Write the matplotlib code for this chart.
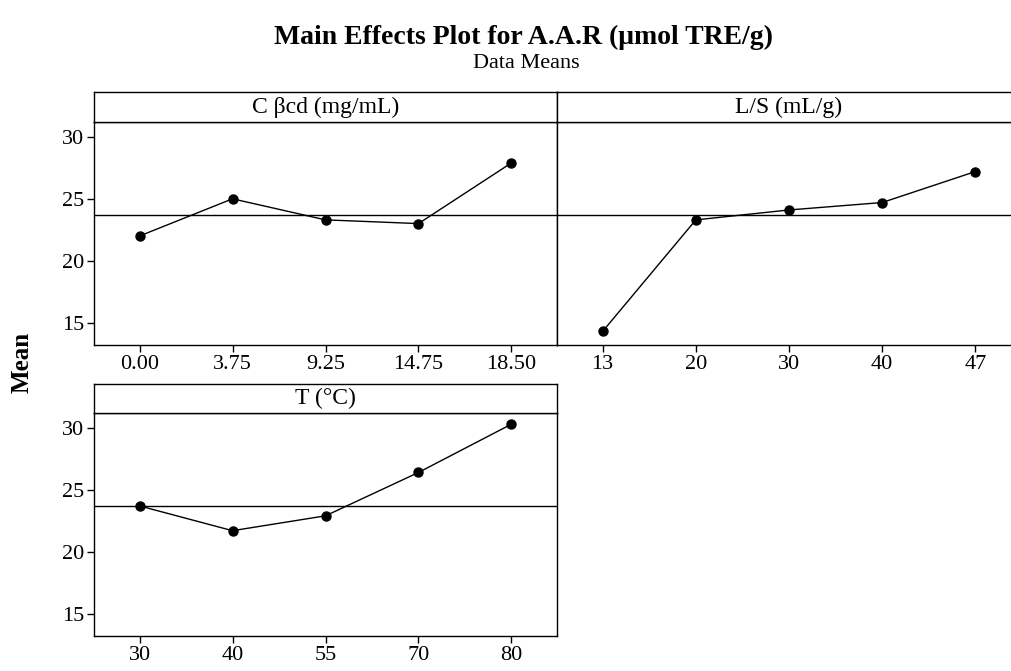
#Python code for Minitab style main effects plot
import numpy as np
import matplotlib.pyplot as plt

plt.rcParams['font.family'] = ['Liberation Serif', 'DejaVu Serif']

# Data (means)
factor_names = ['C βcd (mg/mL)', 'L/S (mL/g)', 'T (°C)']
cbcd_levels = ['0.00', '3.75', '9.25', '14.75', '18.50']
cbcd_means = [22.0, 25.0, 23.3, 23.0, 27.9]
ls_levels = ['13', '20', '30', '40', '47']
ls_means = [14.3, 23.3, 24.1, 24.7, 27.2]
t_levels = ['30', '40', '55', '70', '80']
t_means = [23.7, 21.7, 22.9, 26.4, 30.3]
grand_mean = 23.7
y_ticks = [15, 20, 25, 30]

W, H = 1011, 671
fig = plt.figure(figsize=(W / 100, H / 100), dpi=100)

def rect(x0, y0, x1, y1):
    # pixel box (top-left origin) -> figure fraction
    return [x0 / W, 1 - y1 / H, (x1 - x0) / W, (y1 - y0) / H]

def panel(x0, x1, strip_top, top, bottom, name, levels, means, show_y):
    ax = fig.add_axes(rect(x0, top, x1, bottom))
    pos = np.arange(len(levels))
    ax.plot(pos, means, color='black', lw=1.0, marker='o', markersize=6.5)
    ax.axhline(grand_mean, color='black', lw=1.0)
    ax.set_xlim(-0.49, len(levels) - 1 + 0.49)
    ax.set_ylim(13.2, 31.2)
    ax.set_xticks(pos)
    ax.set_xticklabels(levels)
    ax.set_yticks(y_ticks)
    ax.tick_params(direction='out', length=5, width=1, labelsize=16, pad=2)
    if not show_y:
        ax.tick_params(axis='y', left=False, labelleft=False)
    for s in ax.spines.values():
        s.set_linewidth(1.0)
    # strip with factor name
    st = fig.add_axes(rect(x0, strip_top, x1, top))
    st.set_xticks([])
    st.set_yticks([])
    for s in st.spines.values():
        s.set_linewidth(1.0)
    st.text(0.5, 0.5, name, ha='center', va='center', fontsize=17,
            transform=st.transAxes)
    return ax

panel(94, 557, 92, 122, 345, factor_names[0], cbcd_levels, cbcd_means, True)
panel(557, 1021, 92, 122, 345, factor_names[1], ls_levels, ls_means, False)
panel(94, 557, 384, 413, 636, factor_names[2], t_levels, t_means, True)

fig.text(524 / W, 1 - 37 / H, 'Main Effects Plot for A.A.R (μmol TRE/g)',
         ha='center', va='center', fontsize=20, fontweight='bold')
fig.text(526 / W, 1 - 63 / H, 'Data Means', ha='center', va='center', fontsize=16)
fig.text(22 / W, 1 - 362 / H, 'Mean', ha='center', va='center', rotation=90,
         fontsize=18, fontweight='bold')

plt.savefig('out.png', dpi=100)
